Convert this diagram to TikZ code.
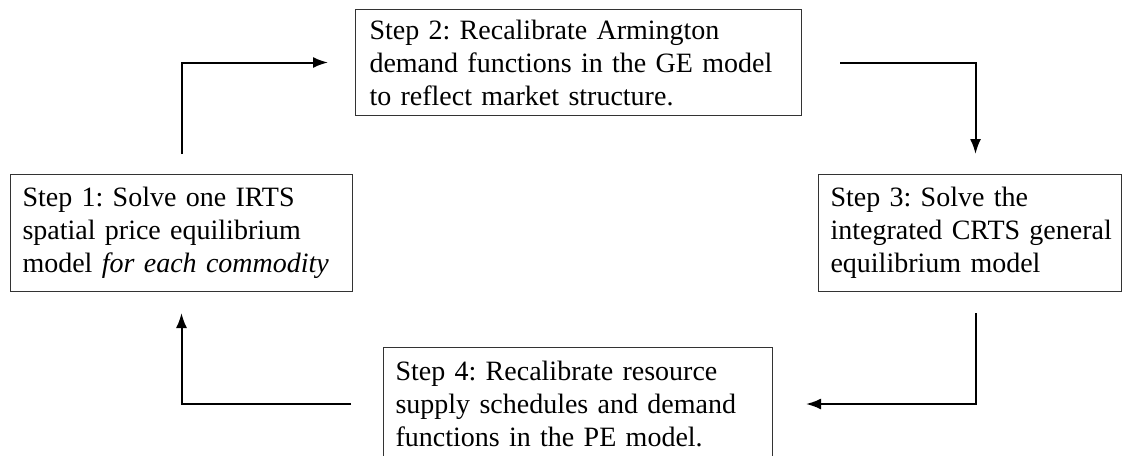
\documentclass[tikz,border=0pt]{standalone}
\usepackage{fontspec}
\setmainfont{Liberation Serif}
\usetikzlibrary{arrows.meta,calc}
\begin{document}
\frenchspacing
\begin{tikzpicture}[x=1pt,y=1pt,
  box/.style={draw=black!80, line width=1pt, anchor=north west, inner xsep=12pt, inner ysep=0pt,
    align=left, font=\fontsize{28}{33}\selectfont},
  flow/.style={line width=2pt, line join=miter, -{Latex[length=15pt,width=11pt]}}]
\useasboundingbox (0,0) rectangle (1123,-455);
\node[box, minimum width=342, minimum height=117, text width=318] (b1) at (10,-174)
  {\mbox{Step 1: Solve one IRTS}\\\mbox{spatial price equilibrium}\\\mbox{model \textit{for each commodity}}};
\node[box, inner xsep=14pt, minimum width=446, minimum height=106, text width=418] (b2) at (355,-9)
  {\mbox{Step 2: Recalibrate Armington}\\\mbox{demand functions in the GE model}\\\mbox{to reflect market structure.}};
\node[box, minimum width=303, minimum height=117, text width=279] (b3) at (818,-174)
  {\mbox{Step 3: Solve the}\\\mbox{integrated CRTS general}\\\mbox{equilibrium model}};
\node[box, minimum width=389, minimum height=113, text width=365] (b4) at (383,-347)
  {\mbox{Step 4: Recalibrate resource}\\\mbox{supply schedules and demand}\\\mbox{functions in the PE model.}};
\coordinate (a1s) at ($(b1.north)+(0,20)$);
\coordinate (a1e) at ($(b2.west)+(-27,0)$);
\draw[flow] (a1s) |- (a1e);
\coordinate (a2s) at ($(b2.east)+(38,0)$);
\coordinate (a2e) at ($(b3.north)+(5.5,20)$);
\draw[flow] (a2s) -| (a2e);
\coordinate (a3s) at ($(b3.south)+(5.5,-21)$);
\coordinate (a3e) at ($(b4.east)+(33,0)$);
\draw[flow] (a3s) |- (a3e);
\coordinate (a4s) at ($(b4.west)+(-32,0)$);
\coordinate (a4e) at ($(b1.south)+(0,-21)$);
\draw[flow] (a4s) -| (a4e);
\end{tikzpicture}
\end{document}
